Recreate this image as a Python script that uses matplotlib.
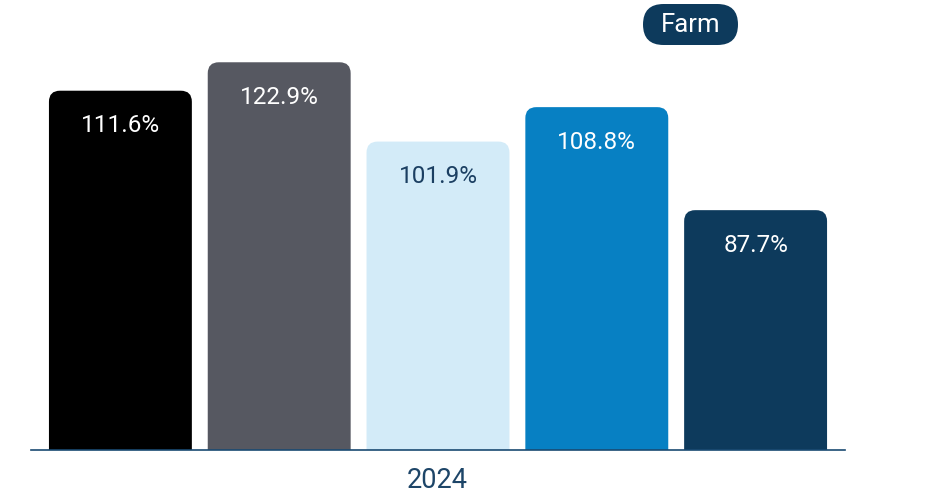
import matplotlib.pyplot as plt
from matplotlib.patches import FancyBboxPatch

plt.rcParams['font.family'] = ['Roboto', 'DejaVu Sans']

# bar data
labels = ['111.6%', '122.9%', '101.9%', '108.8%', '87.7%']
heights = [113.7, 122.7, 97.6, 108.5, 75.9]  # drawn bar heights
colors = ['#000000', '#565861', '#d3ebf8', '#0780c3', '#0d3a5c']
text_colors = ['white', 'white', '#1b3f62', 'white', 'white']
year = '2024'
legend_label = 'Farm'

fig = plt.figure(figsize=(9.48, 4.96), dpi=100)
ax = fig.add_axes([31 / 948, 46 / 496, 814 / 948, 450 / 496])
ax.set_xlim(-0.563, 4.563)
ax.set_ylim(0, 450 / 3.16)

width = 0.9
# rounding in px -> data units, keep it round on screen
px_x = 814 / 5.126
px_y = 3.16
r = 11 / px_x
aspect = px_x / px_y

for i, h in enumerate(heights):
    box = FancyBboxPatch((i - width / 2, -20), width, h + 20,
                         boxstyle=f"round,pad=0,rounding_size={r}",
                         mutation_aspect=aspect,
                         facecolor=colors[i], edgecolor='none')
    ax.add_patch(box)
    ax.text(i, h - 35 / px_y, labels[i], ha='center', va='center',
            fontsize=17.5, color=text_colors[i])

ax.axhline(0, color='#1a4a72', linewidth=1.2, clip_on=False)
for s in ax.spines.values():
    s.set_visible(False)
ax.set_xticks([])
ax.set_yticks([])

fig.text(437.5 / 948, 1 - 481 / 496, year, ha='center', va='center',
         fontsize=19.5, color='#1d4568')

# legend pill
pill = FancyBboxPatch((6.43, (496 - 45) / 100), 0.95, 0.41,
                      boxstyle="round,pad=0,rounding_size=0.205",
                      transform=fig.dpi_scale_trans,
                      facecolor='#0d3a5c', edgecolor='none')
fig.patches.append(pill)
fig.text(690.5 / 948, 1 - 25 / 496, legend_label, ha='center', va='center',
         fontsize=18.5, color='white')

fig.savefig('out.png', dpi=100)
